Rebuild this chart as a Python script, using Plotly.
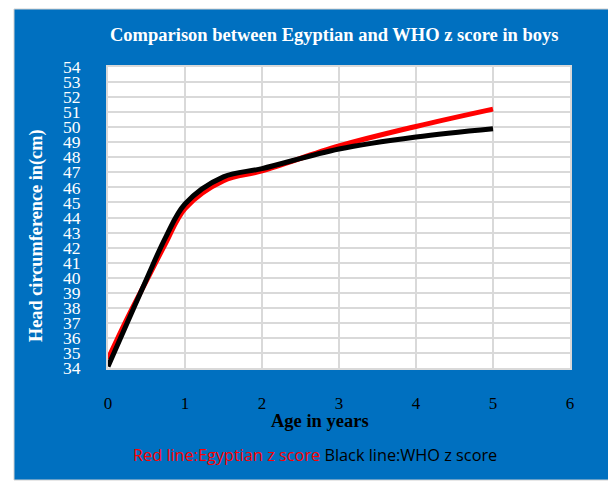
import plotly.graph_objects as go

# Data
age = [0, 0.25, 0.5, 0.75, 1, 1.5, 2, 3, 4, 5]
egyptian_hc = [34.6, 37.3, 39.8, 42.3, 44.6, 46.45, 47.1, 48.75, 50.05, 51.2]
who_hc = [34.1, 37.0, 39.9, 42.7, 44.9, 46.7, 47.25, 48.55, 49.35, 49.9]
x_ticks = [0, 1, 2, 3, 4, 5, 6]
y_ticks = list(range(34, 55))

# page body has an 8px margin, so the figure is offset by 8px
OFF = 8
W, H = 616 - OFF, 490 - OFF
L, R, T, B = 108 - OFF, 570 - OFF, 67 - OFF, 368 - OFF
pw, ph = R - L, B - T


def px(xp):
    return (xp - OFF - L) / pw


def py(yp):
    return (B - (yp - OFF)) / ph


BLUE = "#0070C0"
SERIF = "Liberation Serif, Times New Roman, serif"

fig = go.Figure()
fig.add_trace(go.Scatter(x=age, y=egyptian_hc, mode="lines", name="Egyptian",
                         line=dict(color="#FF0000", width=5, shape="spline", smoothing=1)))
fig.add_trace(go.Scatter(x=age, y=who_hc, mode="lines", name="WHO",
                         line=dict(color="#000000", width=5, shape="spline", smoothing=1)))

shapes = [
    dict(type="rect", xref="paper", yref="paper", layer="below",
         x0=px(14), x1=px(612), y0=py(480), y1=py(9),
         fillcolor=BLUE, line=dict(color="#d0d0d0", width=1)),
    dict(type="rect", xref="paper", yref="paper", layer="below",
         x0=0, x1=1, y0=0, y1=1, fillcolor="white", line=dict(width=0)),
]

annotations = [
    dict(text="<b>Comparison between Egyptian and WHO z score in boys</b>",
         x=px(334), y=py(35), xref="paper", yref="paper", showarrow=False,
         font=dict(family=SERIF, size=18.5, color="white"), xanchor="center", yanchor="middle"),
    dict(text="<b>Head circumference in(cm)</b>", textangle=-90,
         x=px(36), y=py(236), xref="paper", yref="paper", showarrow=False,
         font=dict(family=SERIF, size=18.3, color="white"), xanchor="center", yanchor="middle"),
    dict(text="<b>Age in years</b>",
         x=px(319.5), y=py(421), xref="paper", yref="paper", showarrow=False,
         font=dict(family=SERIF, size=18.5, color="black"), xanchor="center", yanchor="middle"),
    dict(text="<span style='color:#FF0000'>Red line:Egyptian z score</span> Black line:WHO z score",
         x=px(315), y=py(455), xref="paper", yref="paper", showarrow=False,
         font=dict(family="Open Sans, sans-serif", size=16.3, color="black"),
         xanchor="center", yanchor="middle"),
]

fig.update_layout(
    width=W, height=H,
    margin=dict(l=L, r=W - R, t=T, b=H - B, pad=0),
    paper_bgcolor="white",
    plot_bgcolor="rgba(0,0,0,0)",
    showlegend=False,
    shapes=shapes,
    annotations=annotations,
    xaxis=dict(range=[0, 6], tickvals=x_ticks, ticktext=[str(v) for v in x_ticks],
               showgrid=True, gridcolor="#d9d9d9", gridwidth=2, zeroline=False,
               showline=True, linecolor="#d9d9d9", linewidth=2, mirror=True,
               ticks="outside", ticklen=19, tickcolor="rgba(0,0,0,0)",
               tickfont=dict(family=SERIF, size=17, color="black")),
    yaxis=dict(range=[34, 54], tickvals=y_ticks, ticktext=[str(v) for v in y_ticks],
               showgrid=True, gridcolor="#d9d9d9", gridwidth=2, zeroline=False,
               showline=True, linecolor="#d9d9d9", linewidth=2, mirror=True,
               ticks="outside", ticklen=22, tickcolor="rgba(0,0,0,0)",
               tickfont=dict(family=SERIF, size=17.5, color="white")),
)

fig.write_html("out.html")
